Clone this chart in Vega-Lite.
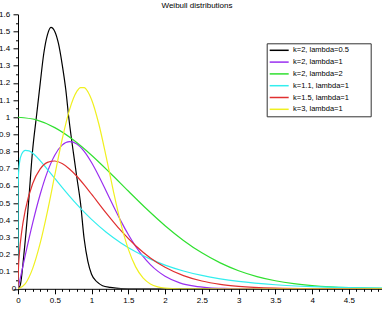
{
  "$schema": "https://vega.github.io/schema/vega-lite/v6.json",
  "width": 364,
  "height": 274.5,
  "autosize": "none",
  "padding": {"left": 18, "top": 14.3, "right": 0, "bottom": 29.2},
  "background": "white",
  "config": {"view": {"stroke": null}, "font": "Liberation Sans"},
  "title": {"text": "Weibull distributions", "fontSize": 8, "fontWeight": "normal", "font": "Liberation Sans", "color": "#000", "anchor": "middle", "frame": "group", "baseline": "alphabetic", "offset": 0, "dx": -3, "dy": 6},
  "data": {"values": [
    {"s":"k=2, lambda=0.5","x":0,"y":0},{"s":"k=2, lambda=0.5","x":0.03,"y":0.02},{"s":"k=2, lambda=0.5","x":0.08,"y":0.2},{"s":"k=2, lambda=0.5","x":0.143,"y":0.5},{"s":"k=2, lambda=0.5","x":0.197,"y":0.8},{"s":"k=2, lambda=0.5","x":0.255,"y":1.02},{"s":"k=2, lambda=0.5","x":0.3,"y":1.19},{"s":"k=2, lambda=0.5","x":0.35,"y":1.37},{"s":"k=2, lambda=0.5","x":0.4,"y":1.48},{"s":"k=2, lambda=0.5","x":0.448,"y":1.524},{"s":"k=2, lambda=0.5","x":0.5,"y":1.5},{"s":"k=2, lambda=0.5","x":0.55,"y":1.43},{"s":"k=2, lambda=0.5","x":0.6,"y":1.31},{"s":"k=2, lambda=0.5","x":0.65,"y":1.16},{"s":"k=2, lambda=0.5","x":0.69,"y":1.0},{"s":"k=2, lambda=0.5","x":0.756,"y":0.785},{"s":"k=2, lambda=0.5","x":0.8,"y":0.65},{"s":"k=2, lambda=0.5","x":0.85,"y":0.5},{"s":"k=2, lambda=0.5","x":0.9,"y":0.29},{"s":"k=2, lambda=0.5","x":0.95,"y":0.16},{"s":"k=2, lambda=0.5","x":1.0,"y":0.085},{"s":"k=2, lambda=0.5","x":1.075,"y":0.04},{"s":"k=2, lambda=0.5","x":1.15,"y":0.018},{"s":"k=2, lambda=0.5","x":1.256,"y":0.008},{"s":"k=2, lambda=0.5","x":1.4,"y":0.001},{"s":"k=2, lambda=0.5","x":1.6,"y":0},{"s":"k=2, lambda=0.5","x":5,"y":0},

    {"s":"k=2, lambda=1","x":0,"y":0},{"s":"k=2, lambda=1","x":0.1,"y":0.198},{"s":"k=2, lambda=1","x":0.2,"y":0.3843},{"s":"k=2, lambda=1","x":0.3,"y":0.5483},{"s":"k=2, lambda=1","x":0.4,"y":0.6817},{"s":"k=2, lambda=1","x":0.5,"y":0.7788},{"s":"k=2, lambda=1","x":0.6,"y":0.8372},{"s":"k=2, lambda=1","x":0.7,"y":0.8577},{"s":"k=2, lambda=1","x":0.8,"y":0.8437},{"s":"k=2, lambda=1","x":0.9,"y":0.8008},{"s":"k=2, lambda=1","x":1.0,"y":0.7358},{"s":"k=2, lambda=1","x":1.1,"y":0.6561},{"s":"k=2, lambda=1","x":1.2,"y":0.5686},{"s":"k=2, lambda=1","x":1.3,"y":0.4797},{"s":"k=2, lambda=1","x":1.4,"y":0.3945},{"s":"k=2, lambda=1","x":1.5,"y":0.3162},{"s":"k=2, lambda=1","x":1.6,"y":0.2474},{"s":"k=2, lambda=1","x":1.7,"y":0.189},{"s":"k=2, lambda=1","x":1.8,"y":0.1411},{"s":"k=2, lambda=1","x":1.9,"y":0.1029},{"s":"k=2, lambda=1","x":2.0,"y":0.0733},{"s":"k=2, lambda=1","x":2.2,"y":0.0348},{"s":"k=2, lambda=1","x":2.4,"y":0.0151},{"s":"k=2, lambda=1","x":2.6,"y":0.006},{"s":"k=2, lambda=1","x":2.8,"y":0.0022},{"s":"k=2, lambda=1","x":3.0,"y":0.0007},{"s":"k=2, lambda=1","x":3.5,"y":0},{"s":"k=2, lambda=1","x":5,"y":0},

    {"s":"k=2, lambda=2","x":0,"y":1},{"s":"k=2, lambda=2","x":0.25,"y":0.9845},{"s":"k=2, lambda=2","x":0.5,"y":0.9394},{"s":"k=2, lambda=2","x":0.75,"y":0.8688},{"s":"k=2, lambda=2","x":1.0,"y":0.7788},{"s":"k=2, lambda=2","x":1.25,"y":0.6766},{"s":"k=2, lambda=2","x":1.5,"y":0.5698},{"s":"k=2, lambda=2","x":1.75,"y":0.465},{"s":"k=2, lambda=2","x":2.0,"y":0.3679},{"s":"k=2, lambda=2","x":2.25,"y":0.2821},{"s":"k=2, lambda=2","x":2.5,"y":0.2096},{"s":"k=2, lambda=2","x":2.75,"y":0.151},{"s":"k=2, lambda=2","x":3.0,"y":0.1054},{"s":"k=2, lambda=2","x":3.25,"y":0.0713},{"s":"k=2, lambda=2","x":3.5,"y":0.0468},{"s":"k=2, lambda=2","x":3.75,"y":0.0297},{"s":"k=2, lambda=2","x":4.0,"y":0.0183},{"s":"k=2, lambda=2","x":4.25,"y":0.0109},{"s":"k=2, lambda=2","x":4.5,"y":0.0063},{"s":"k=2, lambda=2","x":4.75,"y":0.0036},{"s":"k=2, lambda=2","x":5.0,"y":0.0019},

    {"s":"k=1.1, lambda=1","x":0,"y":0},{"s":"k=1.1, lambda=1","x":0.001,"y":0.551},{"s":"k=1.1, lambda=1","x":0.005,"y":0.6457},{"s":"k=1.1, lambda=1","x":0.01,"y":0.6897},{"s":"k=1.1, lambda=1","x":0.02,"y":0.7339},{"s":"k=1.1, lambda=1","x":0.05,"y":0.7855},{"s":"k=1.1, lambda=1","x":0.1,"y":0.807},{"s":"k=1.1, lambda=1","x":0.15,"y":0.8037},{"s":"k=1.1, lambda=1","x":0.2,"y":0.7898},{"s":"k=1.1, lambda=1","x":0.3,"y":0.7475},{"s":"k=1.1, lambda=1","x":0.4,"y":0.6967},{"s":"k=1.1, lambda=1","x":0.5,"y":0.6437},{"s":"k=1.1, lambda=1","x":0.6,"y":0.5911},{"s":"k=1.1, lambda=1","x":0.7,"y":0.5402},{"s":"k=1.1, lambda=1","x":0.8,"y":0.492},{"s":"k=1.1, lambda=1","x":0.9,"y":0.4467},{"s":"k=1.1, lambda=1","x":1.0,"y":0.4047},{"s":"k=1.1, lambda=1","x":1.2,"y":0.33},{"s":"k=1.1, lambda=1","x":1.4,"y":0.2675},{"s":"k=1.1, lambda=1","x":1.6,"y":0.2155},{"s":"k=1.1, lambda=1","x":1.8,"y":0.1729},{"s":"k=1.1, lambda=1","x":2.0,"y":0.1382},{"s":"k=1.1, lambda=1","x":2.25,"y":0.104},{"s":"k=1.1, lambda=1","x":2.5,"y":0.0778},{"s":"k=1.1, lambda=1","x":2.75,"y":0.0581},{"s":"k=1.1, lambda=1","x":3.0,"y":0.0431},{"s":"k=1.1, lambda=1","x":3.5,"y":0.0236},{"s":"k=1.1, lambda=1","x":4.0,"y":0.0128},{"s":"k=1.1, lambda=1","x":4.5,"y":0.0068},{"s":"k=1.1, lambda=1","x":5.0,"y":0.0036},

    {"s":"k=1.5, lambda=1","x":0,"y":0},{"s":"k=1.5, lambda=1","x":0.005,"y":0.106},{"s":"k=1.5, lambda=1","x":0.02,"y":0.2115},{"s":"k=1.5, lambda=1","x":0.05,"y":0.3317},{"s":"k=1.5, lambda=1","x":0.1,"y":0.4596},{"s":"k=1.5, lambda=1","x":0.2,"y":0.6134},{"s":"k=1.5, lambda=1","x":0.3,"y":0.6971},{"s":"k=1.5, lambda=1","x":0.4,"y":0.7367},{"s":"k=1.5, lambda=1","x":0.5,"y":0.7448},{"s":"k=1.5, lambda=1","x":0.6,"y":0.73},{"s":"k=1.5, lambda=1","x":0.7,"y":0.6986},{"s":"k=1.5, lambda=1","x":0.8,"y":0.6561},{"s":"k=1.5, lambda=1","x":0.9,"y":0.6059},{"s":"k=1.5, lambda=1","x":1.0,"y":0.5518},{"s":"k=1.5, lambda=1","x":1.2,"y":0.4413},{"s":"k=1.5, lambda=1","x":1.4,"y":0.3386},{"s":"k=1.5, lambda=1","x":1.6,"y":0.2507},{"s":"k=1.5, lambda=1","x":1.8,"y":0.1799},{"s":"k=1.5, lambda=1","x":2.0,"y":0.1254},{"s":"k=1.5, lambda=1","x":2.25,"y":0.077},{"s":"k=1.5, lambda=1","x":2.5,"y":0.0455},{"s":"k=1.5, lambda=1","x":2.75,"y":0.026},{"s":"k=1.5, lambda=1","x":3.0,"y":0.0144},{"s":"k=1.5, lambda=1","x":3.5,"y":0.004},{"s":"k=1.5, lambda=1","x":4.0,"y":0.001},{"s":"k=1.5, lambda=1","x":5.0,"y":0},

    {"s":"k=3, lambda=1","x":0,"y":0},{"s":"k=3, lambda=1","x":0.1,"y":0.03},{"s":"k=3, lambda=1","x":0.2,"y":0.119},{"s":"k=3, lambda=1","x":0.3,"y":0.2628},{"s":"k=3, lambda=1","x":0.4,"y":0.4502},{"s":"k=3, lambda=1","x":0.5,"y":0.6619},{"s":"k=3, lambda=1","x":0.6,"y":0.8702},{"s":"k=3, lambda=1","x":0.7,"y":1.0431},{"s":"k=3, lambda=1","x":0.8,"y":1.1507},{"s":"k=3, lambda=1","x":0.85,"y":1.1729},{"s":"k=3, lambda=1","x":0.9,"y":1.1723},{"s":"k=3, lambda=1","x":0.95,"y":1.1488},{"s":"k=3, lambda=1","x":1.0,"y":1.1036},{"s":"k=3, lambda=1","x":1.1,"y":0.9591},{"s":"k=3, lambda=1","x":1.2,"y":0.7673},{"s":"k=3, lambda=1","x":1.3,"y":0.5633},{"s":"k=3, lambda=1","x":1.4,"y":0.3781},{"s":"k=3, lambda=1","x":1.5,"y":0.231},{"s":"k=3, lambda=1","x":1.6,"y":0.1278},{"s":"k=3, lambda=1","x":1.7,"y":0.0638},{"s":"k=3, lambda=1","x":1.8,"y":0.0285},{"s":"k=3, lambda=1","x":1.9,"y":0.0114},{"s":"k=3, lambda=1","x":2.0,"y":0.004},{"s":"k=3, lambda=1","x":2.2,"y":0.0003},{"s":"k=3, lambda=1","x":2.5,"y":0},{"s":"k=3, lambda=1","x":5.0,"y":0}
  ]},
  "mark": {"type": "line", "interpolate": "monotone", "strokeWidth": 1.2, "clip": true},
  "encoding": {
    "x": {
      "field": "x", "type": "quantitative",
      "scale": {"domain": [0, 4.95], "nice": false, "zero": false},
      "axis": {
        "title": null, "grid": false,
        "values": [0,0.1,0.2,0.3,0.4,0.5,0.6,0.7,0.8,0.9,1,1.1,1.2,1.3,1.4,1.5,1.6,1.7,1.8,1.9,2,2.1,2.2,2.3,2.4,2.5,2.6,2.7,2.8,2.9,3,3.1,3.2,3.3,3.4,3.5,3.6,3.7,3.8,3.9,4,4.1,4.2,4.3,4.4,4.5,4.6,4.7,4.8,4.9],
        "format": ".1~f",
        "labelExpr": "abs(datum.value*2-round(datum.value*2))<0.001 ? datum.label : ''",
        "tickSize": {"condition": {"test": "abs(datum.value*2-round(datum.value*2))<0.001", "value": 5}, "value": 2.5},
        "labelPadding": 2.2,
        "labelFontSize": 8, "labelFont": "Liberation Sans", "labelColor": "#000",
        "tickColor": "#000", "domainColor": "#000", "tickWidth": 1, "domainWidth": 1,
        "labelOverlap": false, "labelBound": false, "labelFlush": false
      }
    },
    "y": {
      "field": "y", "type": "quantitative",
      "scale": {"domain": [0, 1.6], "nice": false},
      "axis": {
        "title": null, "grid": false,
        "values": [0,0.05,0.1,0.15,0.2,0.25,0.3,0.35,0.4,0.45,0.5,0.55,0.6,0.65,0.7,0.75,0.8,0.85,0.9,0.95,1,1.05,1.1,1.15,1.2,1.25,1.3,1.35,1.4,1.45,1.5,1.55,1.6],
        "format": ".1~f",
        "labelExpr": "abs(datum.value*10-round(datum.value*10))<0.001 ? datum.label : ''",
        "tickSize": {"condition": {"test": "abs(datum.value*10-round(datum.value*10))<0.001", "value": 5}, "value": 2.5},
        "labelPadding": {"condition": {"test": "datum.value == 0", "value": -2.7}, "value": 3.3},
        "labelFontSize": 8, "labelFont": "Liberation Sans", "labelColor": "#000",
        "tickColor": "#000", "domainColor": "#000", "tickWidth": 1, "domainWidth": 1,
        "labelOverlap": false, "labelBound": false, "labelFlush": false
      }
    },
    "color": {
      "field": "s", "type": "nominal",
      "scale": {
        "domain": ["k=2, lambda=0.5", "k=2, lambda=1", "k=2, lambda=2", "k=1.1, lambda=1", "k=1.5, lambda=1", "k=3, lambda=1"],
        "range": ["#000000", "#9a2ff0", "#30e030", "#33eeee", "#e03030", "#f0f020"]
      },
      "legend": {
        "title": null, "orient": "none", "legendX": 248.7, "legendY": 29,
        "padding": 3, "strokeColor": "#333", "fillColor": "white",
        "symbolType": "M-1.265,0H4.74", "symbolSize": 40, "symbolStrokeWidth": 1.5,
        "labelFontSize": 7.5, "labelFont": "Liberation Sans", "labelColor": "#000",
        "labelOffset": 15.3, "rowPadding": 3.8,
        "labelExpr": "datum.label + '\u2800\u2800\u2800'"
      }
    }
  }
}
